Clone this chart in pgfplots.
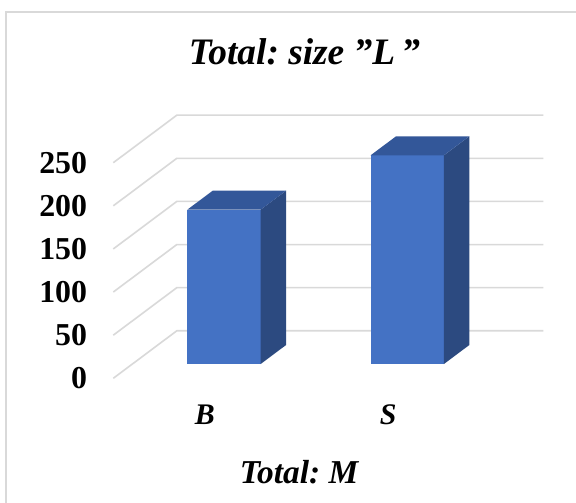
\documentclass[border=0pt]{standalone}
\usepackage{pgfplots}
\pgfplotsset{compat=1.18}
\usepackage{fontspec}
\setmainfont{Liberation Serif}
\frenchspacing

\definecolor{barfront}{HTML}{4472C4}
\definecolor{barside}{HTML}{2C4A80}
\definecolor{bartop}{HTML}{335799}
\definecolor{gridgray}{HTML}{D9D9D9}

\begin{document}
\begin{tikzpicture}[x=1bp,y=1bp]
\useasboundingbox (0,0) rectangle (576,503);
\clip (0,0) rectangle (576,503);
\fill[white] (0,0) rectangle (576,503);
% chart area frame
\draw[gridgray, line width=1.6bp] (5.8,-20) rectangle (600,491.2);

% chart title
\node[anchor=base, font=\fontsize{37.5}{42}\selectfont\bfseries\itshape]
  at (304.5,438) {Total: size \symbol{34}L\,\symbol{34}};

\begin{axis}[
  at={(113.3bp,124.7bp)}, anchor=origin,
  x={(183.25bp,0bp)}, y={(63.5bp,47.5bp)}, z={(0bp,0.8624bp)},
  xmin=0, xmax=2, ymin=0, ymax=1, zmin=0, zmax=250,
  hide axis, clip=false,
]
% gridlines on the side wall and back wall
\pgfplotsinvokeforeach{0,50,...,250}{
  \addplot3[gridgray, line width=1.6bp, mark=none]
    coordinates {(0,0,#1) (0,1,#1) (2,1,#1)};
}
% value labels on the front edge
\pgfplotsinvokeforeach{0,50,...,250}{
  \node[anchor=east, font=\fontsize{32}{36}\selectfont\bfseries,
        inner sep=0pt, xshift=-26bp]
    at (axis cs:0,0,#1) {#1};
}

% bar B (value 179): front, side, top
\addplot3[fill=barfront, draw=none]
  coordinates {(0.3,0.3,0) (0.7,0.3,0) (0.7,0.3,179) (0.3,0.3,179)};
\addplot3[fill=barside, draw=none]
  coordinates {(0.7,0.3,0) (0.7,0.7,0) (0.7,0.7,179) (0.7,0.3,179)};
\addplot3[fill=bartop, draw=none]
  coordinates {(0.3,0.3,179) (0.7,0.3,179) (0.7,0.7,179) (0.3,0.7,179)};

% bar S (value 242): front, side, top
\addplot3[fill=barfront, draw=none]
  coordinates {(1.3,0.3,0) (1.7,0.3,0) (1.7,0.3,242) (1.3,0.3,242)};
\addplot3[fill=barside, draw=none]
  coordinates {(1.7,0.3,0) (1.7,0.7,0) (1.7,0.7,242) (1.7,0.3,242)};
\addplot3[fill=bartop, draw=none]
  coordinates {(1.3,0.3,242) (1.7,0.3,242) (1.7,0.7,242) (1.3,0.7,242)};

% category labels
\node[anchor=base, yshift=-46bp, font=\fontsize{30}{34}\selectfont\bfseries\itshape]
  at (axis cs:0.5,0,0) {B};
\node[anchor=base, yshift=-46bp, font=\fontsize{30}{34}\selectfont\bfseries\itshape]
  at (axis cs:1.5,0,0) {S};
\end{axis}

% axis title
\node[anchor=base, font=\fontsize{33.5}{38}\selectfont\bfseries\itshape]
  at (299,19.7) {Total: M};
\end{tikzpicture}
\end{document}
